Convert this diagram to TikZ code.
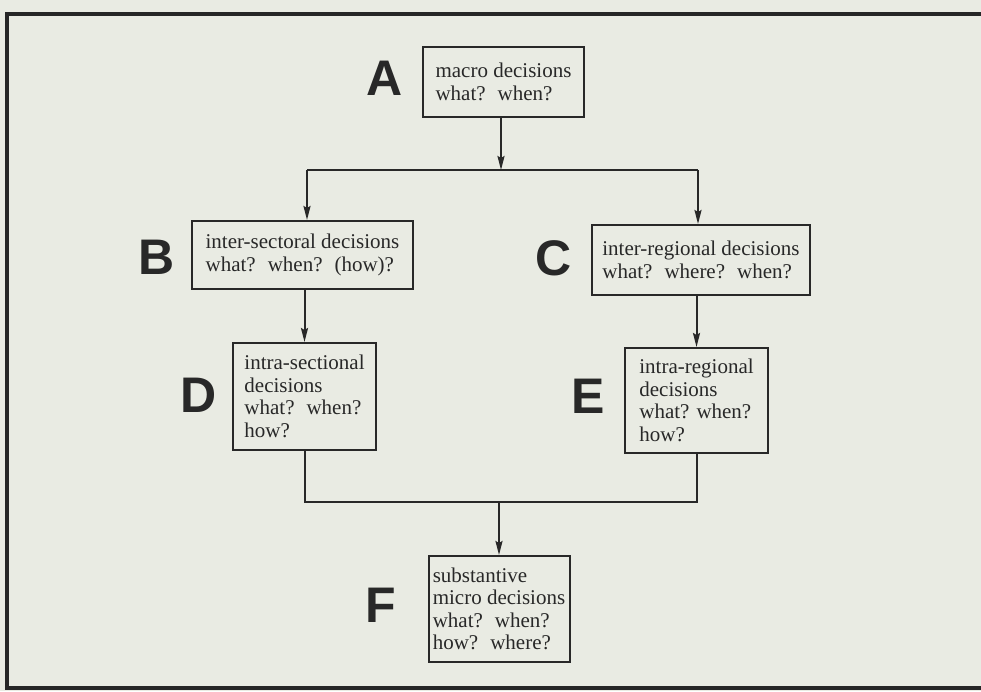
\documentclass[tikz,border=0pt]{standalone}
\usepackage{fontspec}
\setmainfont{Liberation Serif}
\newfontfamily\letterfont{Liberation Sans}
\usetikzlibrary{arrows.meta}
\definecolor{paper}{RGB}{233,235,227}
\definecolor{ink}{RGB}{40,40,40}
\newcommand{\gap}{\hspace{12pt}}
\begin{document}
\begin{tikzpicture}[x=1pt,y=-1pt,
  box/.style={draw=ink, line width=2pt, text=ink, inner sep=0pt,
    font=\fontsize{21}{22.5}\selectfont, align=left},
  tag/.style={text=ink, font=\letterfont\bfseries\fontsize{50}{50}\selectfont, inner sep=0pt},
  conn/.style={draw=ink, line width=2pt},
  arr/.style={conn, -{Stealth[length=14pt,width=7pt,inset=2pt]}},
  frame/.style={draw=black!85, line width=3.2pt}
]
\fill[paper] (0,0) rectangle (981,691);
\useasboundingbox (0,0) rectangle (981,691);
\draw[frame] (981,14) -- (7,14) -- (7,688) -- (981,688);

\node[box, minimum width=161pt, minimum height=70pt] (A) at (503.5,82)
  {macro decisions\\what?\gap when?};
\node[box, minimum width=221pt, minimum height=68pt] (B) at (302.5,255)
  {inter-sectoral decisions\\what?\gap when?\gap (how)?};
\node[box, minimum width=218pt, minimum height=70pt] (C) at (701,260)
  {inter-regional decisions\\what?\gap where?\gap when?};
\node[box, minimum width=143pt, minimum height=107pt] (D) at (304.5,396.5)
  {intra-sectional\\decisions\\what?\gap when?\\how?};
\node[box, minimum width=143pt, minimum height=105pt] (E) at (696.5,400.5)
  {intra-regional\\decisions\\what? when?\\how?};
\node[box, minimum width=141pt, minimum height=106pt] (F) at (499,609)
  {substantive\\micro decisions\\what?\gap when?\\how?\gap where?};

\node[tag] (tA) at (385,78) {A};
\node[tag] (tB) at (157,257) {B};
\node[tag] (tC) at (554,258) {C};
\node[tag] (tD) at (199,395) {D};
\node[tag] (tE) at (588,396) {E};
\node[tag] (tF) at (381,605) {F};

\coordinate (jA) at (501,170);
\coordinate (jL) at (307,170);
\coordinate (jR) at (698,170);
\coordinate (jB) at (499,502);

\draw[arr] (A.south -| jA) -- (jA);
\draw[conn] (jL) -- (jR);
\draw[arr] (jL) -- (jL |- B.north);
\draw[arr] (jR) -- (jR |- C.north);
\draw[arr] (B.south -| D.north) -- (D.north);
\draw[arr] (C.south -| E.north) -- (E.north);
\draw[conn] (D.south) |- (jB) -| (E.south);
\draw[arr] (jB) -- (F.north);
\end{tikzpicture}
\end{document}
